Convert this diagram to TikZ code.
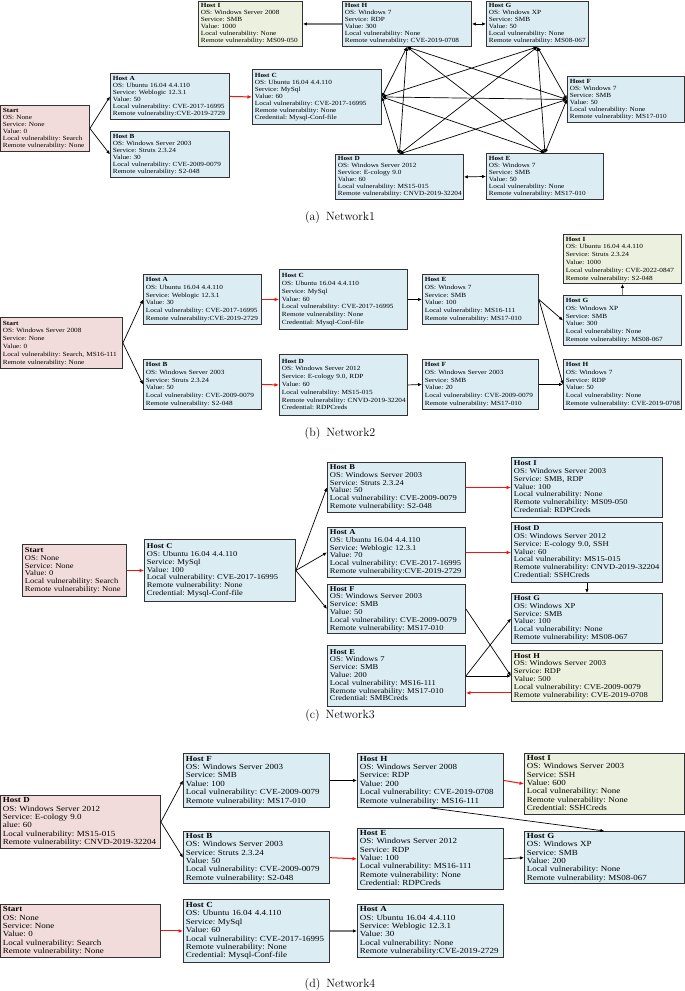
\documentclass[tikz,border=0pt]{standalone}
\usepackage{fontspec}
\newfontfamily\hostfont[FakeStretch=1.15]{Liberation Serif}
\usepackage{tikz}
\usetikzlibrary{arrows.meta,calc}
\definecolor{HostBlue}{RGB}{219,236,243}
\definecolor{HostPink}{RGB}{242,220,219}
\definecolor{HostGreen}{RGB}{235,241,222}
\definecolor{HostBorder}{RGB}{50,50,50}
\definecolor{AtkRed}{RGB}{240,20,20}
\definecolor{LinkGray}{RGB}{125,125,125}
\tikzset{
  hostbox/.style={draw=HostBorder, line width=0.9pt, fill=HostBlue, anchor=north west,
                  align=left, inner xsep=2.5pt, inner ysep=1pt},
  startbox/.style={hostbox, fill=HostPink},
  goalbox/.style={hostbox, fill=HostGreen},
  link/.style={-{Latex[length=4pt,width=3.4pt]}, line width=0.7pt, black},
  duplex/.style={{Latex[length=4pt,width=3.4pt]}-{Latex[length=4pt,width=3.4pt]}, line width=0.7pt, black},
  exploit/.style={-{Latex[length=4.5pt,width=3.8pt]}, line width=1pt, AtkRed},
  pivot/.style={-{Latex[length=4pt,width=3.4pt,black]}, line width=1.2pt, LinkGray},
  caption/.style={font=\fontsize{12}{14}\selectfont},
  netA/.style={font=\hostfont\frenchspacing\fontsize{6.3}{7}\selectfont},
  netB/.style={font=\hostfont\frenchspacing\fontsize{6.3}{7.8}\selectfont},
  netC/.style={font=\hostfont\frenchspacing\fontsize{7.4}{7.8}\selectfont},
  netD/.style={font=\hostfont\frenchspacing\fontsize{7.8}{8.4}\selectfont},
}
% host box: name, style, left, top, width, height, lines
\newcommand{\hostnode}[7]{%
  \pgfmathsetmacro{\hostw}{#5-5}%
  \node[#2, minimum width=#5pt, minimum height=#6pt, text width=\hostw pt] (#1) at (#3,#4)
    {\begin{tabular}{@{}l@{}}#7\end{tabular}};}

\begin{document}
\begin{tikzpicture}[x=1pt,y=-1pt]
  \path[fill=white] (0,0) rectangle (685,991);
  \useasboundingbox (0,0) rectangle (685,991);

  % (a) Network1
  \begin{scope}[nodes=netA]
    \hostnode{aI}{goalbox}{198}{1}{104}{45}{\textbf{Host I}\\OS: Windows Server 2008\\Service: SMB\\Value: 1000\\Local vulnerability: None\\Remote vulnerability: MS09-050}
    \hostnode{aH}{hostbox}{342}{1}{129}{45}{\textbf{Host H}\\OS: Windows 7\\Service: RDP\\Value: 300\\Local vulnerability: None\\Remote vulnerability: CVE-2019-0708}
    \hostnode{aG}{hostbox}{486}{1}{102}{45}{\textbf{Host G}\\OS: Windows XP\\Service: SMB\\Value: 50\\Local vulnerability: None\\Remote vulnerability: MS08-067}
    \hostnode{aStart}{startbox}{0}{105}{89}{46}{\textbf{Start}\\OS: None\\Service: None\\Value: 0\\Local vulnerability: Search\\Remote vulnerability: None}
    \hostnode{aA}{hostbox}{110}{73}{119}{46}{\textbf{Host A}\\OS: Ubuntu 16.04 4.4.110\\Service: Weblogic 12.3.1\\Value: 50\\Local vulnerability: CVE-2017-16995\\Remote vulnerability:CVE-2019-2729}
    \hostnode{aB}{hostbox}{110}{131}{119}{46}{\textbf{Host B}\\OS: Windows Server 2003\\Service: Struts 2.3.24\\Value: 30\\Local vulnerability: CVE-2009-0079\\Remote vulnerability: S2-048}
    \hostnode{aC}{hostbox}{252}{69}{129}{55}{\textbf{Host C}\\OS: Ubuntu 16.04 4.4.110\\Service: MySql\\Value: 60\\Local vulnerability: CVE-2017-16995\\Remote vulnerability: None\\Credential: Mysql-Conf-file}
    \hostnode{aD}{hostbox}{335}{154}{128}{45}{\textbf{Host D}\\OS: Windows Server 2012\\Service: E-cology 9.0\\Value: 60\\Local vulnerability: MS15-015\\Remote vulnerability: CNVD-2019-32204}
    \hostnode{aE}{hostbox}{486}{153}{117}{46}{\textbf{Host E}\\OS: Windows 7\\Service: SMB\\Value: 50\\Local vulnerability: None\\Remote vulnerability: MS17-010}
    \hostnode{aF}{hostbox}{567}{76}{117}{46}{\textbf{Host F}\\OS: Windows 7\\Service: SMB\\Value: 50\\Local vulnerability: None\\Remote vulnerability: MS17-010}
  \end{scope}
  \draw[link] (aStart.east) -- (aA.west);
  \draw[link] (aStart.east) -- (aB.west);
  \draw[exploit] (aA.east) -- (aC.west);
  \draw[pivot] (aH.west) -- (aI.east);
  \draw[duplex] (aH.east) -- (aG.west);
  \draw[duplex] (aD.east) -- (aE.west);
  \foreach \u/\v in {aH.south/aC.east, aH.south/aD.north, aH.south/aF.west, aH.south/aE.north,
                     aC.east/aD.north, aC.east/aG.south, aC.east/aF.west, aC.east/aE.north,
                     aD.north/aG.south, aD.north/aF.west, aG.south/aF.west, aG.south/aE.north,
                     aF.west/aE.north}
    \draw[duplex] (\u) -- (\v);
  \node[caption] (capA) at (340,218) {(a)\enspace Network1};

  % (b) Network2
  \begin{scope}[nodes=netB]
    \hostnode{bStart}{startbox}{0}{317}{122}{51}{\textbf{Start}\\OS: Windows Server 2008\\Service: None\\Value: 0\\Local vulnerability: Search, MS16-111\\Remote vulnerability: None}
    \hostnode{bA}{hostbox}{143}{274}{118}{50}{\textbf{Host A}\\OS: Ubuntu 16.04 4.4.110\\Service: Weblogic 12.3.1\\Value: 30\\Local vulnerability: CVE-2017-16995\\Remote vulnerability:CVE-2019-2729}
    \hostnode{bB}{hostbox}{143}{359}{118}{50}{\textbf{Host B}\\OS: Windows Server 2003\\Service: Struts 2.3.24\\Value: 50\\Local vulnerability: CVE-2009-0079\\Remote vulnerability: S2-048}
    \hostnode{bC}{hostbox}{279}{269}{128}{60}{\textbf{Host C}\\OS: Ubuntu 16.04 4.4.110\\Service: MySql\\Value: 60\\Local vulnerability: CVE-2017-16995\\Remote vulnerability: None\\Credential: Mysql-Conf-file}
    \hostnode{bD}{hostbox}{279}{354}{128}{61}{\textbf{Host D}\\OS: Windows Server 2012\\Service: E-cology 9.0, RDP\\Value: 60\\Local vulnerability: MS15-015\\Remote vulnerability: CNVD-2019-32204\\Credential: RDPCreds}
    \hostnode{bE}{hostbox}{422}{274}{116}{50}{\textbf{Host E}\\OS: Windows 7\\Service: SMB\\Value: 100\\Local vulnerability: MS16-111\\Remote vulnerability: MS17-010}
    \hostnode{bF}{hostbox}{422}{359}{116}{50}{\textbf{Host F}\\OS: Windows Server 2003\\Service: SMB\\Value: 20\\Local vulnerability: CVE-2009-0079\\Remote vulnerability: MS17-010}
    \hostnode{bI}{goalbox}{563}{234}{118}{49}{\textbf{Host I}\\OS: Ubuntu 16.04 4.4.110\\Service: Struts 2.3.24\\Value: 1000\\Local vulnerability: CVE-2022-0847\\Remote vulnerability: S2-048}
    \hostnode{bG}{hostbox}{563}{295}{118}{50}{\textbf{Host G}\\OS: Windows XP\\Service: SMB\\Value: 300\\Local vulnerability: None\\Remote vulnerability: MS08-067}
    \hostnode{bH}{hostbox}{563}{359}{118}{50}{\textbf{Host H}\\OS: Windows 7\\Service: RDP\\Value: 50\\Local vulnerability: None\\Remote vulnerability: CVE-2019-0708}
  \end{scope}
  \draw[link] (bStart.east) -- (bA.west);
  \draw[link] (bStart.east) -- (bB.west);
  \draw[exploit] (bA.east) -- (bC.west);
  \draw[exploit] (bB.east) -- (bD.west);
  \draw[link] (bC.east) -- (bE.west);
  \draw[link] (bD.east) -- (bF.west);
  \draw[link] (bE.east) -- (bG.west);
  \draw[link] (bE.east) -- (bH.west);
  \draw[link] (bF.east) -- (bH.west);
  \draw[pivot] (bG.north) -- (bI.south);
  \node[caption] (capB) at (340,433) {(b)\enspace Network2};

  % (c) Network3
  \begin{scope}[nodes=netC]
    \hostnode{cStart}{startbox}{22}{544}{104}{52}{\textbf{Start}\\OS: None\\Service: None\\Value: 0\\Local vulnerability: Search\\Remote vulnerability: None}
    \hostnode{cC}{hostbox}{144}{539}{151}{62}{\textbf{Host C}\\OS: Ubuntu 16.04 4.4.110\\Service: MySql\\Value: 100\\Local vulnerability: CVE-2017-16995\\Remote vulnerability: None\\Credential: Mysql-Conf-file}
    \hostnode{cB}{hostbox}{327}{462}{138}{50}{\textbf{Host B}\\OS: Windows Server 2003\\Service: Struts 2.3.24\\Value: 50\\Local vulnerability: CVE-2009-0079\\Remote vulnerability: S2-048}
    \hostnode{cA}{hostbox}{327}{527}{138}{50}{\textbf{Host A}\\OS: Ubuntu 16.04 4.4.110\\Service: Weblogic 12.3.1\\Value: 70\\Local vulnerability: CVE-2017-16995\\Remote vulnerability:CVE-2019-2729}
    \hostnode{cF}{hostbox}{327}{584}{138}{49}{\textbf{Host F}\\OS: Windows Server 2003\\Service: SMB\\Value: 50\\Local vulnerability: CVE-2009-0079\\Remote vulnerability: MS17-010}
    \hostnode{cE}{hostbox}{327}{645}{138}{61}{\textbf{Host E}\\OS: Windows 7\\Service: SMB\\Value: 200\\Local vulnerability: MS16-111\\Remote vulnerability: MS17-010\\Credential: SMBCreds}
    \hostnode{cI}{hostbox}{511}{457}{151}{60}{\textbf{Host I}\\OS: Windows Server 2003\\Service: SMB, RDP\\Value: 100\\Local vulnerability: None\\Remote vulnerability: MS09-050\\Credential: RDPCreds}
    \hostnode{cD}{hostbox}{511}{522}{151}{60}{\textbf{Host D}\\OS: Windows Server 2012\\Service: E-cology 9.0, SSH\\Value: 60\\Local vulnerability: MS15-015\\Remote vulnerability: CNVD-2019-32204\\Credential: SSHCreds}
    \hostnode{cG}{hostbox}{511}{593}{151}{50}{\textbf{Host G}\\OS: Windows XP\\Service: SMB\\Value: 100\\Local vulnerability: None\\Remote vulnerability: MS08-067}
    \hostnode{cH}{goalbox}{511}{650}{151}{51}{\textbf{Host H}\\OS: Windows Server 2003\\Service: RDP\\Value: 500\\Local vulnerability: CVE-2009-0079\\Remote vulnerability: CVE-2019-0708}
  \end{scope}
  \draw[exploit] (cStart.east) -- (cC.west);
  \draw[link] (cC.east) -- (cB.west);
  \draw[link] (cC.east) -- (cA.west);
  \draw[link] (cC.east) -- (cF.west);
  \draw[exploit] (cB.east) -- (cI.west);
  \draw[exploit] (cA.east) -- (cD.west);
  \draw[link] (cD.south) -- (cG.north);
  \draw[link] (cF.east) -- (cH.west);
  \draw[link] (cE.east) -- (cG.west);
  \draw[link] (cE.east) -- (cH.west);
  \draw[exploit] ($(cH.south west)+(0,-9)$) -- ($(cE.south east)+(0,-14)$);
  \node[caption] (capC) at (340,715) {(c)\enspace Network3};

  % (d) Network4
  \begin{scope}[nodes=netD]
    \hostnode{dD}{startbox}{0}{795}{160}{53}{\textbf{Host D}\\OS: Windows Server 2012\\Service: E-cology 9.0\\alue: 60\\Local vulnerability: MS15-015\\Remote vulnerability: CNVD-2019-32204}
    \hostnode{dStart}{startbox}{0}{904}{160}{53}{\textbf{Start}\\OS: None\\Service: None\\Value: 0\\Local vulnerability: Search\\Remote vulnerability: None}
    \hostnode{dF}{hostbox}{183}{753}{146}{54}{\textbf{Host F}\\OS: Windows Server 2003\\Service: SMB\\Value: 100\\Local vulnerability: CVE-2009-0079\\Remote vulnerability: MS17-010}
    \hostnode{dB}{hostbox}{183}{831}{146}{52}{\textbf{Host B}\\OS: Windows Server 2003\\Service: Struts 2.3.24\\Value: 50\\Local vulnerability: CVE-2009-0079\\Remote vulnerability: S2-048}
    \hostnode{dC}{hostbox}{183}{899}{146}{63}{\textbf{Host C}\\OS: Ubuntu 16.04 4.4.110\\Service: MySql\\Value: 60\\Local vulnerability: CVE-2017-16995\\Remote vulnerability: None\\Credential: Mysql-Conf-file}
    \hostnode{dH}{hostbox}{357}{753}{146}{54}{\textbf{Host H}\\OS: Windows Server 2008\\Service: RDP\\Value: 200\\Local vulnerability: CVE-2019-0708\\Remote vulnerability: MS16-111}
    \hostnode{dE}{hostbox}{357}{828}{146}{59}{\textbf{Host E}\\OS: Windows Server 2012\\Service: RDP\\Value: 100\\Local vulnerability: MS16-111\\Remote vulnerability: None\\Credential: RDPCreds}
    \hostnode{dA}{hostbox}{357}{904}{146}{53}{\textbf{Host A}\\OS: Ubuntu 16.04 4.4.110\\Service: Weblogic 12.3.1\\Value: 30\\Local vulnerability: None\\Remote vulnerability:CVE-2019-2729}
    \hostnode{dI}{goalbox}{524}{753}{160}{59}{\textbf{Host I}\\OS: Windows Server 2003\\Service: SSH\\Value: 600\\Local vulnerability: None\\Remote vulnerability: None\\Credential: SSHCreds}
    \hostnode{dG}{hostbox}{524}{831}{160}{52}{\textbf{Host G}\\OS: Windows XP\\Service: SMB\\Value: 200\\Local vulnerability: None\\Remote vulnerability: MS08-067}
  \end{scope}
  \draw[link] (dD.east) -- (dF.west);
  \draw[link] (dD.east) -- (dB.west);
  \draw[exploit] (dStart.east) -- (dC.west);
  \draw[link] (dF.east) -- (dH.west);
  \draw[exploit] (dB.east) -- (dE.west);
  \draw[pivot] (dC.east) -- (dA.west);
  \draw[exploit] (dH.east) -- (dI.west);
  \draw[link] (dH.south) -- (dG.north);
  \draw[link] (dE.east) -- (dG.west);
  \node[caption] (capD) at (340,984) {(d)\enspace Network4};
\end{tikzpicture}
\end{document}
